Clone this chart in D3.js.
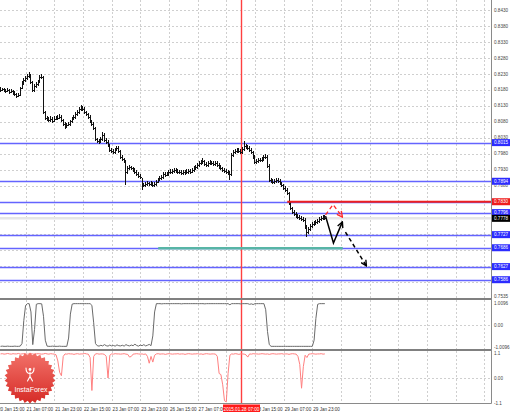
<!DOCTYPE html>
<html><head><meta charset="utf-8">
<script src="https://cdn.jsdelivr.net/npm/d3@7"></script>
<style>html,body{margin:0;padding:0;background:#fff;overflow:hidden}svg{display:block}</style>
</head><body><svg id="c" width="510" height="414"></svg>
<script>
// ---------------- DATA ----------------
const firstBarTime = "20 Jan 17:00";
const closes = [0.8180,0.8183,0.8180,0.8177,0.8180,0.8174,0.8177,0.8171,0.8168,0.8161,
 0.8164,0.8186,0.8202,0.8211,0.8218,0.8224,0.8227,0.8205,0.8180,0.8193,
 0.8199,0.8208,0.8221,0.8221,0.8111,0.8093,0.8090,0.8086,0.8090,0.8083,
 0.8090,0.8093,0.8093,0.8096,0.8086,0.8074,0.8064,0.8071,0.8074,0.8083,
 0.8090,0.8096,0.8105,0.8111,0.8121,0.8127,0.8121,0.8111,0.8105,0.8096,
 0.8083,0.8074,0.8061,0.8027,0.8021,0.8018,0.8027,0.8040,0.8024,0.8018,
 0.8008,0.7993,0.7989,0.7986,0.7993,0.7999,0.7989,0.7971,0.7964,0.7958,
 0.7924,0.7936,0.7939,0.7936,0.7930,0.7924,0.7918,0.7911,0.7908,0.7883,
 0.7883,0.7886,0.7889,0.7886,0.7889,0.7883,0.7886,0.7893,0.7899,0.7905,
 0.7908,0.7918,0.7915,0.7918,0.7924,0.7924,0.7927,0.7930,0.7927,0.7924,
 0.7924,0.7921,0.7924,0.7921,0.7924,0.7927,0.7924,0.7930,0.7936,0.7939,
 0.7946,0.7952,0.7955,0.7958,0.7949,0.7946,0.7952,0.7955,0.7952,0.7949,
 0.7952,0.7946,0.7939,0.7936,0.7930,0.7927,0.7924,0.7921,0.7918,0.7977,
 0.7986,0.7989,0.7993,0.7989,0.7986,0.7996,0.8005,0.8002,0.7999,0.7993,
 0.7986,0.7971,0.7955,0.7958,0.7961,0.7961,0.7964,0.7971,0.7971,0.7943,
 0.7899,0.7896,0.7893,0.7896,0.7899,0.7896,0.7889,0.7883,0.7874,0.7868,
 0.7858,0.7827,0.7811,0.7799,0.7793,0.7786,0.7783,0.7780,0.7777,0.7774,
 0.7752,0.7736,0.7746,0.7755,0.7761,0.7764,0.7768,0.7771,0.7777,0.7780,
 0.7783,0.7778];
const highs = [0.8188,0.8187,0.8186,0.8184,0.8185,0.8183,0.8182,0.8180,0.8175,0.8171,
 0.8169,0.8190,0.8207,0.8216,0.8223,0.8229,0.8236,0.8231,0.8209,0.8197,
 0.8204,0.8212,0.8228,0.8230,0.8225,0.8115,0.8098,0.8096,0.8097,0.8094,
 0.8099,0.8098,0.8102,0.8104,0.8100,0.8090,0.8078,0.8076,0.8080,0.8087,
 0.8095,0.8101,0.8110,0.8116,0.8126,0.8134,0.8131,0.8125,0.8115,0.8109,
 0.8100,0.8087,0.8078,0.8065,0.8031,0.8026,0.8033,0.8047,0.8044,0.8028,
 0.8022,0.8012,0.7998,0.7994,0.7998,0.8004,0.8003,0.7993,0.7975,0.7968,
 0.7962,0.7941,0.7944,0.7943,0.7940,0.7934,0.7928,0.7922,0.7916,0.7905,
 0.7890,0.7892,0.7894,0.7893,0.7895,0.7893,0.7892,0.7898,0.7904,0.7910,
 0.7914,0.7923,0.7922,0.7924,0.7929,0.7931,0.7932,0.7936,0.7934,0.7931,
 0.7930,0.7928,0.7930,0.7928,0.7931,0.7933,0.7932,0.7935,0.7941,0.7945,
 0.7952,0.7957,0.7961,0.7968,0.7962,0.7953,0.7957,0.7960,0.7959,0.7956,
 0.7958,0.7956,0.7950,0.7944,0.7940,0.7934,0.7931,0.7928,0.7925,0.7983,
 0.7992,0.7995,0.7999,0.7997,0.7994,0.8001,0.8021,0.8012,0.8008,0.8004,
 0.7997,0.7990,0.7975,0.7964,0.7967,0.7968,0.7970,0.7976,0.7980,0.7975,
 0.7947,0.7904,0.7901,0.7902,0.7905,0.7904,0.7900,0.7893,0.7887,0.7878,
 0.7872,0.7862,0.7831,0.7815,0.7803,0.7797,0.7791,0.7788,0.7785,0.7782,
 0.7778,0.7756,0.7751,0.7760,0.7766,0.7770,0.7773,0.7777,0.7782,0.7785,
 0.7789,0.7787];
const lows = [0.8176,0.8177,0.8175,0.8172,0.8174,0.8170,0.8171,0.8167,0.8163,0.8157,
 0.8158,0.8162,0.8183,0.8198,0.8207,0.8214,0.8220,0.8200,0.8174,0.8176,
 0.8189,0.8195,0.8204,0.8215,0.8105,0.8087,0.8085,0.8081,0.8082,0.8078,
 0.8080,0.8086,0.8088,0.8089,0.8082,0.8070,0.8059,0.8061,0.8067,0.8070,
 0.8079,0.8086,0.8092,0.8101,0.8107,0.8117,0.8116,0.8107,0.8100,0.8092,
 0.8079,0.8069,0.8057,0.8022,0.8016,0.8012,0.8014,0.8023,0.8020,0.8013,
 0.8003,0.7988,0.7984,0.7980,0.7982,0.7989,0.7985,0.7966,0.7959,0.7953,
 0.7883,0.7919,0.7931,0.7931,0.7925,0.7919,0.7913,0.7906,0.7903,0.7868,
 0.7877,0.7878,0.7881,0.7880,0.7882,0.7878,0.7879,0.7882,0.7889,0.7895,
 0.7901,0.7904,0.7910,0.7911,0.7913,0.7918,0.7919,0.7922,0.7921,0.7918,
 0.7917,0.7915,0.7916,0.7914,0.7917,0.7919,0.7918,0.7920,0.7926,0.7931,
 0.7934,0.7941,0.7947,0.7950,0.7944,0.7940,0.7941,0.7947,0.7946,0.7943,
 0.7944,0.7941,0.7934,0.7930,0.7925,0.7921,0.7918,0.7915,0.7899,0.7913,
 0.7972,0.7981,0.7984,0.7983,0.7980,0.7981,0.7991,0.7996,0.7993,0.7988,
 0.7981,0.7966,0.7950,0.7950,0.7953,0.7955,0.7956,0.7959,0.7965,0.7938,
 0.7893,0.7890,0.7887,0.7888,0.7890,0.7891,0.7884,0.7878,0.7869,0.7862,
 0.7853,0.7822,0.7806,0.7793,0.7787,0.7780,0.7777,0.7774,0.7771,0.7768,
 0.7746,0.7722,0.7731,0.7741,0.7750,0.7756,0.7759,0.7762,0.7766,0.7772,
 0.7775,0.7775];
const osc1 = [-0.98,-0.97,-0.98,-0.98,-0.97,-0.98,-0.98,-0.98,-0.97,-0.98,-0.98,-0.97,
 -0.85,0.20,0.90,0.98,0.98,0.60,-0.90,-0.20,0.95,0.98,0.98,0.97,0.40,-0.70,-0.97,
 -0.98,-0.98,-0.97,-0.98,-0.98,-0.98,-0.97,-0.98,-0.98,-0.98,-0.98,
 -0.60,0.50,0.96,0.98,0.98,0.98,0.98,0.98,0.98,0.98,0.98,0.98,0.98,0.90,0.10,-0.85,
 -0.95,-0.97,-0.93,-0.96,-0.90,-0.95,-0.97,-0.92,-0.96,-0.94,-0.97,-0.91,-0.95,-0.96,-0.93,-0.97,
 -0.90,-0.94,-0.96,-0.92,-0.95,-0.88,-0.94,-0.97,-0.92,-0.95,-0.90,-0.96,-0.93,-0.89,-0.95,
 -0.50,0.60,0.98,
 0.98,0.98,0.97,0.98,0.98,0.98,0.98,0.98,0.98,0.98,0.98,0.98,0.98,0.97,0.98,0.98,0.98,0.98,0.98,0.98,
 0.98,0.98,0.98,0.98,0.98,0.98,0.97,0.98,0.98,0.98,0.98,0.98,0.98,0.98,0.98,0.98,0.98,0.98,0.98,0.98,
 0.93,
 0.98,0.98,0.98,0.98,0.98,0.97,0.98,0.98,0.98,0.98,
 0.95,0.97,0.94,
 0.98,0.98,0.98,0.98,0.98,0.98,
 0.70,-0.30,-0.90,
 -0.98,-0.98,-0.98,-0.98,-0.98,-0.98,-0.98,-0.98,-0.98,-0.98,-0.98,-0.98,
 -0.98,-0.98,-0.98,-0.98,-0.98,-0.98,-0.98,-0.98,-0.98,-0.98,-0.98,-0.98,
 -0.70,0.30,0.95,
 0.98,0.98,0.98,0.98];
const osc2 = [1.06,1.07,1.05,1.06,1.08,1.06,1.05,1.07,1.06,1.06,1.08,1.05,1.06,1.07,1.06,1.05,
 1.06,1.07,1.06,1.04,1.06,1.07,1.06,1.05,1.06,1.08,1.06,1.05,1.07,1.06,1.05,
 1.02,0.75,0.25,0.10,0.95,
 1.06,1.05,1.07,1.06,1.06,1.04,1.06,1.07,1.05,1.06,1.06,1.08,1.06,1.05,
 0.90,-0.55,0.95,
 1.06,1.07,1.05,1.06,1.06,1.04,
 0.95,0.00,1.00,
 1.06,1.05,1.07,1.06,1.06,1.05,1.06,1.07,1.05,1.04,
 0.92,0.95,
 1.05,1.06,1.07,1.06,1.05,1.06,1.04,1.06,
 0.95,0.65,0.95,0.70,1.00,
 1.06,1.07,1.05,1.06,1.06,1.04,1.06,1.07,1.06,1.05,1.06,1.06,1.07,1.05,1.06,1.06,1.04,
 1.06,1.07,1.06,1.05,1.06,1.06,1.07,1.05,1.06,1.04,1.06,1.07,1.06,1.05,1.06,1.06,1.05,
 0.95,0.20,0.15,-0.30,-1.00,-1.05,0.20,1.00,
 1.06,1.05,1.07,1.06,1.04,1.06,1.06,1.05,1.02,
 0.92,
 1.06,1.05,1.07,1.06,1.06,1.05,1.06,1.07,1.06,1.05,1.06,1.04,1.06,1.07,
 1.06,1.05,1.06,1.06,1.07,1.05,1.06,1.06,1.04,1.06,1.07,1.06,1.05,
 0.95,0.60,-0.45,0.50,1.00,
 0.90,
 1.05,1.06,1.07,1.06,1.05,1.06,1.06,1.07,1.05,1.06];
const priceTicks = [0.8430,0.8380,0.8330,0.8280,0.8230,0.8180,0.8130,0.8080,0.8030,0.7980,
 0.7930,0.7880,0.7830,0.7780,0.7730,0.7680,0.7630,0.7580,0.7535];
const timeTicks = ["20 Jan 15:00","21 Jan 07:00","21 Jan 23:00","22 Jan 15:00","23 Jan 07:00",
 "23 Jan 23:00","26 Jan 15:00","27 Jan 07:00","28 Jan 15:00","29 Jan 07:00","29 Jan 23:00"];
const crosshairTime = "2015.01.28 07:00";
const levelPrices = [0.8015,0.7894,0.7830,0.7796,0.7727,0.7686,0.7627,0.7586];
const resistance = {price:0.7830, from:"29 Jan 09:00", label:"0.7830"};
const support = {price:0.7686, fromBar:88, toBar:191};
const arrowBlack = [[181.4,0.7785],[185.8,0.7701],[190.8,0.7767]];
const arrowBlackDash = [[192.5,0.7735],[204.2,0.7629]];
const arrowRed = [[181.4,0.7789],[185.6,0.7821],[190.8,0.7782]];
const osc1Ticks = [{v:1.0096,t:"1.0096"},{v:0,t:"0.00"},{v:-1.0096,t:"-1.0096"}];
const osc2Ticks = [{v:1.1,t:"1.1"},{v:0,t:"0.00"},{v:-1.1,t:"-1.1"}];

// ---------------- HELPERS ----------------
function parseTick(s){const [d,m,hm]=s.split(" ");const [hh,mm]=hm.split(":");return Date.UTC(2015,0,+d,+hh,+mm);}
function tradingIndex(t){const base=Date.UTC(2015,0,19,0);let n=0;for(let h=base;h<t;h+=3600000){const d=new Date(h).getUTCDay();if(d!==0&&d!==6)n++;}return n;}
const base0 = tradingIndex(parseTick(firstBarTime));
const idxOf = s => tradingIndex(parseTick(s)) - base0;
function parseFull(s){const [dt,hm]=s.split(" ");const [Y,M,D]=dt.split(".");const [hh,mm]=hm.split(":");return Date.UTC(+Y,+M-1,+D,+hh,+mm);}

const svg = d3.select("#c");
const FONT = "'Liberation Sans', Arial, sans-serif";
const RIGHT = 491.5;
const x = d3.scaleLinear().domain([0,274]).range([0.5,491.5]);
const yM = d3.scaleLinear().domain([0.7535,0.8430]).range([296,10]);
const y1 = d3.scaleLinear().domain([-1.0096,1.0096]).range([347,303]);
const y2 = d3.scaleLinear().domain([-1.1,1.1]).range([403,353]);
const N = closes.length;
const opens = closes.map((c,i)=> i===0 ? 0.8183 : closes[i-1]);

const defs = svg.append("defs");
[["ahB","#000"],["ahR","#ff2a2a"]].forEach(([id,col])=>{
  defs.append("marker").attr("id",id).attr("viewBox","0 0 10 10").attr("refX",9).attr("refY",5)
   .attr("markerWidth",7).attr("markerHeight",7).attr("markerUnits","userSpaceOnUse").attr("orient","auto")
   .append("path").attr("d","M1,1 L9,5 L1,9").attr("fill","none").attr("stroke",col).attr("stroke-width",2);
});
const lg = defs.append("linearGradient").attr("id","badge").attr("x1",0).attr("y1",0).attr("x2",0).attr("y2",1);
lg.append("stop").attr("offset","0%").attr("stop-color","#f2726a");
lg.append("stop").attr("offset","100%").attr("stop-color","#d62b26");

svg.append("rect").attr("width",510).attr("height",414).attr("fill","#fff");

// ---------------- GRID ----------------
const grid = svg.append("g").attr("stroke","#cfcfcf").attr("stroke-dasharray","2,2").attr("shape-rendering","crispEdges");
const gStart = idxOf(timeTicks[0]);
d3.range(gStart, 274, 16).forEach(i=>{
  const gx = Math.round(x(i))+0.5;
  [[0,298],[300,349],[351,402]].forEach(([a,b])=>grid.append("line").attr("x1",gx).attr("x2",gx).attr("y1",a).attr("y2",b));
});
priceTicks.slice(0,-1).forEach(p=>{const gy=Math.round(yM(p))+0.5;grid.append("line").attr("x1",0).attr("x2",RIGHT).attr("y1",gy).attr("y2",gy);});
[[y1(0)],[y2(0)]].forEach(([gy])=>grid.append("line").attr("x1",0).attr("x2",RIGHT).attr("y1",Math.round(gy)+0.5).attr("y2",Math.round(gy)+0.5));

// current price band
const lastClose = closes[N-1];
svg.append("line").attr("x1",0).attr("x2",RIGHT).attr("y1",yM(lastClose)).attr("y2",yM(lastClose))
  .attr("stroke","#e6e6e6").attr("stroke-width",2.5);

// level lines
svg.append("g").selectAll("line").data(levelPrices).join("line")
  .attr("x1",0).attr("x2",RIGHT).attr("y1",d=>Math.round(yM(d))+0.5).attr("y2",d=>Math.round(yM(d))+0.5)
  .attr("stroke","#6464ff").attr("stroke-width",1.4);

// crosshair
const chIdx = tradingIndex(parseFull(crosshairTime)) - base0;
const chX = Math.round(x(chIdx))+0.5;
svg.append("line").attr("x1",chX).attr("x2",chX).attr("y1",0).attr("y2",403).attr("stroke","#ff4040").attr("stroke-width",1.4);

// ---------------- BARS ----------------
const bars = svg.append("g").attr("stroke","#111").attr("stroke-width",1).attr("shape-rendering","crispEdges");
closes.forEach((c,i)=>{
  const bx = Math.floor(x(i))+0.5;
  bars.append("line").attr("x1",bx).attr("x2",bx).attr("y1",yM(highs[i])).attr("y2",yM(lows[i])+0.5);
  bars.append("line").attr("x1",bx).attr("x2",bx+1).attr("y1",Math.round(yM(c))+0.5).attr("y2",Math.round(yM(c))+0.5);
});

// resistance (red) and support (teal)
const rFrom = idxOf(resistance.from);
svg.append("line").attr("x1",x(rFrom)).attr("x2",RIGHT).attr("y1",yM(resistance.price)).attr("y2",yM(resistance.price))
  .attr("stroke","#ee2020").attr("stroke-width",2);
svg.append("line").attr("x1",x(support.fromBar)).attr("x2",x(support.toBar)).attr("y1",yM(support.price)+0.5).attr("y2",yM(support.price)+0.5)
  .attr("stroke","#58b5a6").attr("stroke-width",2.5);

// arrows
const ln = d3.line().x(d=>x(d[0])).y(d=>yM(d[1]));
svg.append("path").attr("d",ln(arrowBlack)).attr("fill","none").attr("stroke","#000").attr("stroke-width",1.5).attr("marker-end","url(#ahB)");
svg.append("path").attr("d",ln(arrowBlackDash)).attr("fill","none").attr("stroke","#000").attr("stroke-width",1.5).attr("stroke-dasharray","4,3").attr("marker-end","url(#ahB)");
svg.append("path").attr("d",ln(arrowRed)).attr("fill","none").attr("stroke","#ff2a2a").attr("stroke-width",1.3).attr("stroke-dasharray","4,3").attr("marker-end","url(#ahR)");

// ---------------- OSCILLATORS ----------------
svg.append("path").attr("d",d3.line().x((d,i)=>x(i)).y(d=>y1(d))(osc1)).attr("fill","none").attr("stroke","#6a6a6a").attr("stroke-width",1);
svg.append("path").attr("d",d3.line().x((d,i)=>x(i)).y(d=>y2(d))(osc2)).attr("fill","none").attr("stroke","#ff8080").attr("stroke-width",1);

// panel borders
svg.append("line").attr("x1",0).attr("x2",RIGHT).attr("y1",299).attr("y2",299).attr("stroke","#808080").attr("stroke-width",2);
svg.append("line").attr("x1",0).attr("x2",RIGHT).attr("y1",350).attr("y2",350).attr("stroke","#808080").attr("stroke-width",2);
svg.append("line").attr("x1",0).attr("x2",RIGHT).attr("y1",403.5).attr("y2",403.5).attr("stroke","#8a8a8a").attr("stroke-width",1);
svg.append("line").attr("x1",RIGHT).attr("x2",RIGHT).attr("y1",0).attr("y2",403.5).attr("stroke","#8a8a8a").attr("stroke-width",1);

// ---------------- AXES LABELS ----------------
const fs = 4.6;
const boxPrices = levelPrices.concat([lastClose]);
const axR = svg.append("g").attr("font-family",FONT).attr("font-size",fs).attr("fill","#444");
priceTicks.filter(p=>boxPrices.every(b=>Math.abs(yM(b)-yM(p))>=4))
  .forEach(p=>axR.append("text").attr("x",494).attr("y",yM(p)).attr("dy","0.35em").text(p.toFixed(4)));
osc1Ticks.forEach(t=>axR.append("text").attr("x",494).attr("y",y1(t.v)).attr("dy","0.35em").text(t.t));
osc2Ticks.forEach(t=>axR.append("text").attr("x",494).attr("y",y2(t.v)).attr("dy","0.35em").text(t.t));

function box(price,fill,label){
  const by = yM(price);
  svg.append("rect").attr("x",492).attr("y",by-3.5).attr("width",18).attr("height",7).attr("fill",fill);
  svg.append("text").attr("x",494).attr("y",by).attr("dy","0.35em").attr("font-family",FONT).attr("font-size",fs).attr("fill","#fff").text(label);
}
levelPrices.filter(p=>p!==resistance.price).forEach(p=>box(p,"#2c2cff",p.toFixed(4)));
box(resistance.price,"#ee1c1c",resistance.label);
box(lastClose,"#000",lastClose.toFixed(4));

const axB = svg.append("g").attr("font-family",FONT).attr("font-size",fs).attr("fill","#333");
timeTicks.forEach(t=>axB.append("text").attr("x",x(idxOf(t))+1).attr("y",410.5).text(t));
svg.append("rect").attr("x",chX-18.5).attr("y",404.5).attr("width",37).attr("height",7.5).attr("fill","#ff1a1a");
svg.append("text").attr("x",chX).attr("y",410.5).attr("text-anchor","middle").attr("font-family",FONT).attr("font-size",fs).attr("fill","#fff").text(crosshairTime);

// ---------------- LOGO ----------------
const cx=30, cy=378, n=30, Ro=25.5, Ri=22.8;
const pts = d3.range(2*n).map(k=>{const a=k*Math.PI/n - Math.PI/2; const r=k%2?Ri:Ro; return [cx+r*Math.cos(a), cy+r*Math.sin(a)];});
svg.append("path").attr("d","M"+pts.map(p=>p.join(",")).join("L")+"Z").attr("fill","url(#badge)");
const ic = svg.append("g").attr("stroke","#fff").attr("fill","none").attr("stroke-width",1.1).attr("stroke-linecap","round");
ic.append("circle").attr("cx",cx).attr("cy",369.5).attr("r",1.4).attr("fill","#fff").attr("stroke","none");
ic.append("path").attr("d",`M${cx-4},368 Q${cx-4},373.5 ${cx},373.5 Q${cx+4},373.5 ${cx+4},368`);
ic.append("path").attr("d",`M${cx},372 L${cx},377 M${cx-2.5},381 L${cx},376.5 L${cx+2.5},381`);
svg.append("text").attr("x",cx+1).attr("y",391.5).attr("text-anchor","middle").attr("font-family",FONT).attr("font-size",7).attr("fill","#fff").text("InstaForex");
</script>
</body></html>
